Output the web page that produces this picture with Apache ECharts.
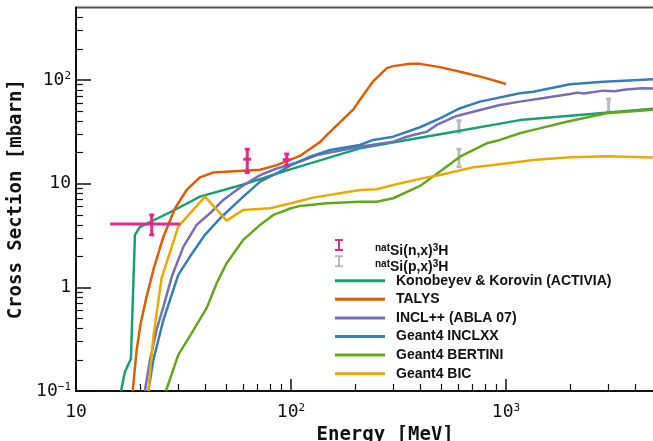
<!DOCTYPE html>
<html>
<head>
<meta charset="utf-8">
<script src="https://cdn.jsdelivr.net/npm/echarts@6/dist/echarts.min.js"></script>
<style>
  html, body { margin: 0; padding: 0; background: #fff; }
  #chart { width: 653px; height: 441px; }
</style>
</head>
<body>
<div id="chart"></div>
<script>
// 坐标轴刻度
var xTickValues = [10, 100, 1000];
var xTickLabels = ['10', '10{sup|2}', '10{sup|3}'];
var xMinorTicks = [20, 30, 40, 50, 60, 70, 80, 90, 200, 300, 400, 500, 600, 700, 800, 900, 2000, 3000, 4000];
var yTickValues = [0.1, 1, 10, 100];
var yTickLabels = ['10{sup|\u22121}', '1', '10', '10{sup|2}'];
var yMinorTicks = [0.2, 0.3, 0.4, 0.5, 0.6, 0.7, 0.8, 0.9, 2, 3, 4, 5, 6, 7, 8, 9, 20, 30, 40, 50, 60, 70, 80, 90, 200, 300, 400];

// 模型计算 (能量 MeV, 截面 mbarn)
var activiaE  = [16.2, 16.9, 18.0, 18.8, 19.8, 28.9, 37.7, 60, 100, 209, 493, 1160, 5000];
var activiaXS = [0.1, 0.154, 0.203, 3.2, 3.8, 5.6, 7.5, 9.8, 13.8, 21.9, 30, 41, 53];

var talysE  = [18.35, 19.15, 20.0, 21.3, 22.9, 25.5, 28.9, 32.7, 37.7, 43.5, 52, 71.8, 85.8, 110, 137, 147, 195, 209, 241, 279, 299, 358, 398, 493, 611, 784, 1000];
var talysXS = [0.1, 0.249, 0.451, 0.813, 1.47, 3.08, 5.79, 8.69, 11.5, 12.8, 13.1, 13.6, 15.1, 18.5, 25.4, 29.5, 52, 64, 97, 130, 136, 143, 143, 133, 120, 106, 91.5];

var inclE  = [20.9, 22.1, 23.7, 25.5, 27.9, 31.6, 36.4, 42.0, 48.4, 55.9, 62.2, 71.8, 85.8, 110, 132, 209, 299, 340, 370, 428, 476, 590, 757, 938, 1160, 1500, 1985, 2150, 2300, 2835, 3200, 3600, 4300, 5000];
var inclXS = [0.1, 0.2, 0.388, 0.652, 1.27, 2.47, 4.0, 5.18, 6.96, 8.69, 10.1, 12.1, 14.0, 16.3, 18.9, 22.7, 25.4, 28.0, 29.5, 31.7, 36.8, 45.0, 51.4, 57.4, 61.8, 67, 73.3, 75.5, 74, 78.9, 78, 81, 83, 82.5];

var inclxxE  = [21.7, 22.9, 25.5, 29.9, 33.9, 39.8, 46.8, 60, 71.8, 85.8, 100, 122.6, 151.8, 209, 241, 299, 398, 493, 611, 757, 1160, 1340, 1985, 2835, 5000];
var inclxxXS = [0.1, 0.2, 0.485, 1.32, 1.98, 3.21, 4.64, 7.5, 10.45, 12.6, 15.1, 18.2, 21.1, 23.6, 26.4, 28.4, 35.0, 42.7, 53.4, 61.8, 74.4, 77.1, 90.9, 96.3, 102];

var bertiniE  = [26.2, 29.9, 34.5, 40.5, 45.1, 50.2, 60, 71.8, 82.8, 100, 110, 146.6, 209, 250, 299, 398, 493, 611, 813, 938, 1160, 1340, 1915, 2938, 5000];
var bertiniXS = [0.1, 0.223, 0.361, 0.629, 1.095, 1.71, 2.87, 4.0, 4.99, 5.79, 6.1, 6.47, 6.7, 6.7, 7.23, 9.5, 13.1, 18.2, 24.5, 26.4, 30.6, 33, 39.6, 47.7, 51.8];

var bicE  = [21.7, 22.9, 25.0, 29.9, 34.5, 39.8, 50.2, 60, 79.9, 100, 127, 169, 209, 250, 299, 412, 493, 705, 873, 1160, 1340, 1985, 2938, 5000];
var bicXS = [0.1, 0.335, 1.22, 3.85, 5.37, 7.5, 4.4, 5.58, 5.79, 6.47, 7.33, 8.08, 8.69, 8.83, 9.71, 11.3, 12.1, 14.4, 15.1, 16.3, 16.9, 18.0, 18.4, 17.8];

// 实验数据 (中心值, 能量范围, 截面误差)
var nE     = [22.5, 62.6, 95.5];
var nELow  = [14.4, 62.6, 95.5];
var nEHigh = [30.5, 62.6, 95.5];
var nXS    = [4.09, 17.2, 17.0];
var nXSLow = [3.21, 12.8, 15.0];
var nXSHigh= [4.99, 21.5, 19.3];

var pE     = [604, 604, 3000];
var pXS    = [35.6, 17.7, 57];
var pXSLow = [31.3, 14.6, 49.4];
var pXSHigh= [40.5, 21.5, 65.6];

var nName = '{sup|nat}Si(n,x){sup|3}H';
var pName = '{sup|nat}Si(p,x){sup|3}H';
var modelNames = ['Konobeyev & Korovin (ACTIVIA)', 'TALYS', 'INCL++ (ABLA 07)', 'Geant4 INCLXX', 'Geant4 BERTINI', 'Geant4 BIC'];
var modelColors = ['#1b9e77', '#d95f02', '#7570b3', '#377eb8', '#66a61e', '#e6ab02'];
var modelE = [activiaE, talysE, inclE, inclxxE, bertiniE, bicE];
var modelXS = [activiaXS, talysXS, inclXS, inclxxXS, bertiniXS, bicXS];

function pairs(xs, ys) {
    return xs.map(function (x, i) { return [x, ys[i]]; });
}

function findLabel(values, labels, v) {
    for (var i = 0; i < values.length; i++) {
        if (Math.abs(Math.log10(values[i]) - Math.log10(v)) < 1e-6) return labels[i];
    }
    return '';
}

function errorBar(color, centerMark) {
    return function (params, api) {
        var c = api.coord([api.value(0), api.value(1)]);
        var lo = api.coord([api.value(0), api.value(4)]);
        var hi = api.coord([api.value(0), api.value(5)]);
        var l = api.coord([api.value(2), api.value(1)]);
        var r = api.coord([api.value(3), api.value(1)]);
        var st = { stroke: color, lineWidth: 3, fill: null };
        var children = [
            { type: 'line', shape: { x1: c[0], y1: lo[1], x2: c[0], y2: hi[1] }, style: st },
            { type: 'line', shape: { x1: c[0] - 2.5, y1: lo[1], x2: c[0] + 2.5, y2: lo[1] }, style: st },
            { type: 'line', shape: { x1: c[0] - 2.5, y1: hi[1], x2: c[0] + 2.5, y2: hi[1] }, style: st }
        ];
        if (centerMark) {
            children.push({ type: 'line', shape: { x1: Math.min(l[0], c[0] - 4), y1: c[1], x2: Math.max(r[0], c[0] + 4), y2: c[1] }, style: st });
        }
        return { type: 'group', children: children };
    };
}

var myChart = echarts.init(document.getElementById('chart'));

var monoFont = 'DejaVu Sans Mono';
var supRich = {
    sup: { fontSize: 11, lineHeight: 8, verticalAlign: 'top', fontFamily: monoFont, color: '#111' }
};
// 工字形图例, 下方留空使文字略低于图标
var iconI = 'path://M0,0 L8,0 L8,2 L5,2 L5,10 L8,10 L8,12 L0,12 L0,10 L3,10 L3,2 L0,2 Z M4,24';

var series = [];
series.push({
    name: nName,
    type: 'custom',
    renderItem: errorBar('#e7298a', true),
    itemStyle: { color: '#e7298a' },
    encode: { x: 0, y: 1 },
    data: nE.map(function (e, i) { return [e, nXS[i], nELow[i], nEHigh[i], nXSLow[i], nXSHigh[i]]; }),
    z: 5
});
series.push({
    name: pName,
    type: 'custom',
    renderItem: errorBar('#bbbbbb', false),
    itemStyle: { color: '#bbbbbb' },
    encode: { x: 0, y: 1 },
    data: pE.map(function (e, i) { return [e, pXS[i], e, e, pXSLow[i], pXSHigh[i]]; }),
    z: 1
});
modelNames.forEach(function (name, i) {
    series.push({
        name: name,
        type: 'line',
        symbol: 'none',
        color: modelColors[i],
        lineStyle: { width: 2.5, color: modelColors[i] },
        data: pairs(modelE[i], modelXS[i]),
        z: 2
    });
});

var option = {
    animation: false,
    grid: {
        left: 76, top: 7.5, right: -3.3, bottom: 50,
        outerBoundsMode: 'none',
        show: true, borderColor: '#555', borderWidth: 2
    },
    legend: [{
        data: [{ name: nName, icon: iconI }, { name: pName, icon: iconI }],
        orient: 'vertical',
        left: 335, top: 239, padding: 0,
        itemWidth: 50, itemHeight: 24, itemGap: -15.8,
        selectedMode: false,
        textStyle: {
            fontFamily: 'Liberation Sans', fontWeight: 'bold', fontSize: 14, lineHeight: 16,
            color: '#111', padding: [0, 0, 0, 6],
            rich: {
                sup: { fontFamily: 'Liberation Sans', fontWeight: 'bold', fontSize: 10, lineHeight: 6, padding: [0, 0, 18, 0], verticalAlign: 'top', color: '#111' }
            }
        }
    }, {
        data: modelNames.map(function (n) { return { name: n, icon: 'rect' }; }),
        orient: 'vertical',
        left: 335, top: 272.7, padding: 0,
        itemWidth: 50, itemHeight: 3, itemGap: 2.6,
        selectedMode: false,
        textStyle: {
            fontFamily: 'Liberation Sans', fontWeight: 'bold', fontSize: 14, lineHeight: 16,
            color: '#111', padding: [0, 0, 0, 6]
        }
    }],
    xAxis: [{
        type: 'log', logBase: 10, min: 10, max: 5000, position: 'bottom',
        name: 'Energy [MeV]', nameLocation: 'middle', nameGap: 28,
        nameTextStyle: { fontFamily: monoFont, fontWeight: 'bold', fontSize: 19, color: '#111', padding: [0, 0, 0, 38] },
        axisLine: { lineStyle: { color: '#111', width: 2 } },
        axisTick: { inside: true, length: 12, customValues: xTickValues, lineStyle: { color: '#111', width: 1.5 } },
        axisLabel: {
            customValues: xTickValues, margin: 12,
            fontFamily: monoFont, fontSize: 18, color: '#111',
            formatter: function (v) { return findLabel(xTickValues, xTickLabels, v); },
            rich: supRich
        },
        splitLine: { show: false }
    }, {
        type: 'log', logBase: 10, min: 10, max: 5000, position: 'bottom',
        axisLine: { show: false },
        axisTick: { inside: true, length: 7, customValues: xMinorTicks, lineStyle: { color: '#111', width: 1.2 } },
        axisLabel: { show: false },
        splitLine: { show: false }
    }],
    yAxis: [{
        type: 'log', logBase: 10, min: 0.1, max: 500, position: 'left',
        name: 'Cross Section [mbarn]', nameLocation: 'middle', nameGap: 46,
        nameTextStyle: { fontFamily: monoFont, fontWeight: 'bold', fontSize: 19, color: '#111' },
        axisLine: { lineStyle: { color: '#111', width: 2 } },
        axisTick: { inside: true, length: 15, customValues: yTickValues, lineStyle: { color: '#111', width: 1.5 } },
        axisLabel: {
            customValues: yTickValues, margin: 5,
            fontFamily: monoFont, fontSize: 18, color: '#111',
            formatter: function (v) { return findLabel(yTickValues, yTickLabels, v); },
            rich: supRich
        },
        splitLine: { show: false }
    }, {
        type: 'log', logBase: 10, min: 0.1, max: 500, position: 'left',
        axisLine: { show: false },
        axisTick: { inside: true, length: 7, customValues: yMinorTicks, lineStyle: { color: '#111', width: 1.2 } },
        axisLabel: { show: false },
        splitLine: { show: false }
    }],
    series: series
};

myChart.setOption(option);
</script>
</body>
</html>
